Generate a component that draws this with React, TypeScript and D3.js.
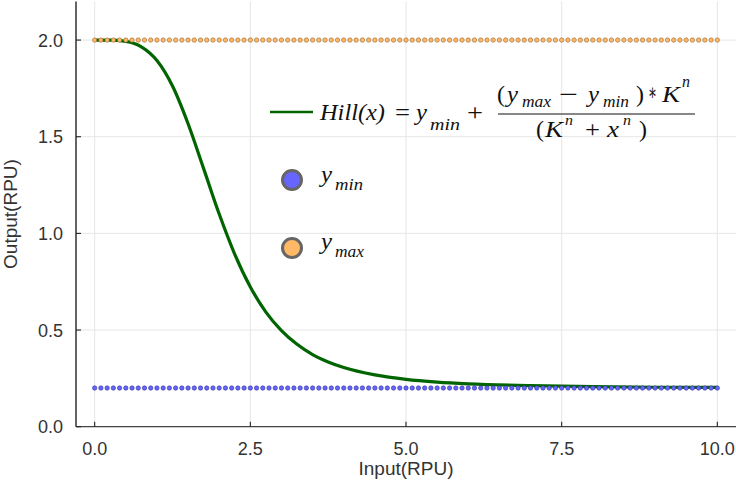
import React from 'react';
import * as d3 from "d3";

const width = 736;
const height = 489;
const margin = ({top: 1.4, right: 0, bottom: 62.3, left: 76});

// Hill curve
const curveX = [0, 0.25, 0.5, 0.75, 1.0, 1.25, 1.5, 1.75, 2.0, 2.25, 2.5, 2.75, 3.0, 3.25, 3.5, 3.75, 4.0, 4.5, 5.0, 5.5, 6.0, 7.0, 8.0, 9.0, 10.0];
const curveY = [2.0, 1.9996, 1.993, 1.965, 1.894, 1.762, 1.567, 1.335, 1.1, 0.892, 0.723, 0.593, 0.497, 0.426, 0.373, 0.335, 0.306, 0.268, 0.245, 0.231, 0.222, 0.212, 0.207, 0.204, 0.203];

const yMin = 0.2;
const yMax = 2.0;
const dotX = d3.range(0, 101).map(i => i / 10);

const xTicks = [0, 2.5, 5, 7.5, 10];
const yTicks = [0, 0.5, 1.0, 1.5, 2.0];

const sans = "'Liberation Sans', Arial, sans-serif";
const serif = "'Liberation Serif', 'DejaVu Serif', serif";

// one piece of the legend's math, stretched to the width seen in the picture
function M({x, y, w, s = 23, it = true, children}: any) {
    return (
        <text x={x} y={y} fontSize={s} fontStyle={it ? "italic" : "normal"}
            textLength={w} lengthAdjust="spacingAndGlyphs">{children}</text>
    );
}

export default function App() {
    const x = d3.scaleLinear()
        .domain([-0.3, 10.3])
        .range([margin.left, width - margin.right]);
    const y = d3.scaleLinear()
        .domain([0, 2.2])
        .range([height - margin.bottom, margin.top]);

    const pts = curveX.map((v, i) => [v, curveY[i]] as [number, number]);
    const line = d3.line<[number, number]>()
        .x(d => x(d[0]))
        .y(d => y(d[1]))
        .curve(d3.curveMonotoneX);

    const x0 = margin.left, x1 = width - margin.right;
    const y0 = height - margin.bottom, y1 = margin.top;
    const fmt = d3.format(".1f");

    return (
        <svg width={width} height={height} style={{position: "absolute", left: 0, top: 0, background: "#fff"}}>
            {/* grid */}
            <g stroke="#e6e6e6" strokeWidth={1}>
                {xTicks.map(t => <line key={"gx" + t} x1={x(t)} x2={x(t)} y1={y0} y2={y1} />)}
                {yTicks.map(t => <line key={"gy" + t} x1={x0} x2={x1} y1={y(t)} y2={y(t)} />)}
            </g>

            <path d={line(pts) || ""} fill="none" stroke="#006400" strokeWidth={3.2} strokeLinejoin="round" />

            <g fill="#6666ff" stroke="#333399" strokeWidth={0.6}>
                {dotX.map(v => <circle key={"a" + v} cx={x(v)} cy={y(yMin)} r={2.2} />)}
            </g>
            <g fill="#ffb866" stroke="#996633" strokeWidth={0.6}>
                {dotX.map(v => <circle key={"b" + v} cx={x(v)} cy={y(yMax)} r={2.2} />)}
            </g>

            {/* axes */}
            <line x1={x0} x2={x0} y1={y0} y2={y1} stroke="#111" strokeWidth={1.3} />
            <line x1={x0} x2={x1} y1={y0} y2={y0} stroke="#444" strokeWidth={1.3} />
            <g stroke="#222" strokeWidth={1.1}>
                {xTicks.map(t => <line key={"tx" + t} x1={x(t)} x2={x(t)} y1={y0} y2={y0 - 5} />)}
                {yTicks.map(t => <line key={"ty" + t} x1={x0} x2={x0 + 5} y1={y(t)} y2={y(t)} />)}
            </g>
            <g fontFamily={sans} fontSize={18} fill="#333">
                {xTicks.map(t => <text key={"lx" + t} x={x(t)} y={y0 + 28} textAnchor="middle">{fmt(t)}</text>)}
                {yTicks.map(t => <text key={"ly" + t} x={x0 - 13} y={y(t) + 6.5} textAnchor="end">{fmt(t)}</text>)}
            </g>
            <text x={(x0 + x1) / 2} y={475} textAnchor="middle" fontFamily={sans} fontSize={19} fill="#333">Input(RPU)</text>
            <text transform={`translate(17,${(y0 + y1) / 2}) rotate(-90)`} textAnchor="middle" fontFamily={sans} fontSize={19} fill="#333">Output(RPU)</text>

            {/* legend */}
            <line x1={270} x2={313} y1={112} y2={112} stroke="#006400" strokeWidth={2.5} />
            <g fontFamily={serif} fill="#111">
                <M x={320} y={120} w={65}>Hill(x)</M>
                <M x={395} y={120} w={15} it={false}>=</M>
                <M x={416} y={120} w={11}>y</M>
                <M x={430} y={130} w={30} s={17}>min</M>
                <M x={467} y={120} w={16} it={false}>+</M>

                <M x={497} y={102} w={8} it={false}>(</M>
                <M x={507} y={102} w={11}>y</M>
                <M x={522} y={107} w={29} s={16}>max</M>
                <M x={559} y={102} w={19} it={false}>−</M>
                <M x={588} y={102} w={11}>y</M>
                <M x={603} y={107} w={26} s={16}>min</M>
                <M x={636} y={102} w={8} it={false}>)</M>
                <M x={648} y={100} w={9} it={false}>∗</M>
                <M x={662} y={102} w={18}>K</M>
                <M x={682} y={87} w={8} s={17}>n</M>
                <line x1={498} x2={695} y1={114} y2={114} stroke="#111" strokeWidth={1.2} />

                <M x={536} y={137} w={8} it={false}>(</M>
                <M x={545} y={137} w={18}>K</M>
                <M x={565} y={125} w={8} s={15}>n</M>
                <M x={585} y={137} w={15} it={false}>+</M>
                <M x={607} y={137} w={12}>x</M>
                <M x={623} y={125} w={8} s={15}>n</M>
                <M x={639} y={137} w={8} it={false}>)</M>

                <circle cx={292} cy={180} r={9.5} fill="#6666ff" stroke="#666" strokeWidth={3} />
                <M x={321} y={182} w={11}>y</M>
                <M x={335} y={190} w={28} s={17}>min</M>
                <circle cx={292} cy={248} r={9.5} fill="#ffb866" stroke="#666" strokeWidth={3} />
                <M x={321} y={249} w={11}>y</M>
                <M x={335} y={257} w={29} s={17}>max</M>
            </g>
        </svg>
    );
}
